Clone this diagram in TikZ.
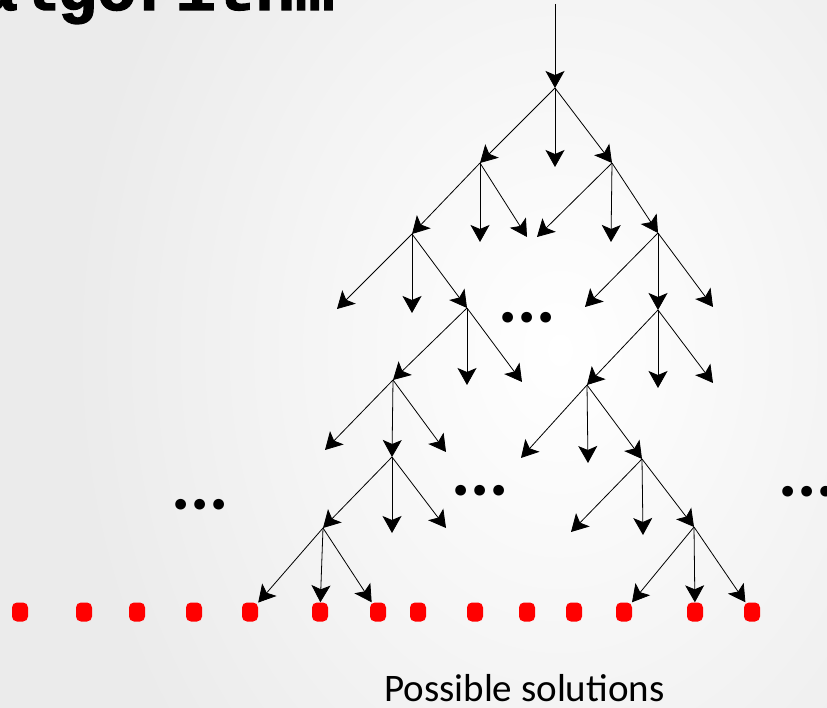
\documentclass[tikz,border=0pt]{standalone}
\usepackage{fontspec}
\usetikzlibrary{arrows.meta}

\newfontfamily\monofam{Liberation Mono}[BoldFeatures={FakeBold=2}]
\newfontfamily\calibfam{Carlito}
\newcommand\titlefont{\monofam\bfseries\fontsize{66}{70}\selectfont}
\newcommand\solfont{\calibfam\fontsize{39}{44}\selectfont}
\newcommand\dotsfont{\calibfam\bfseries\fontsize{72}{80}\selectfont}

\begin{document}
\begin{tikzpicture}[
  x=1pt, y=-1pt,
  arrow/.style = {-{Stealth[length=17pt, width=19pt, inset=4pt]}, line width=0.8pt},
  soln/.style = {fill=red, rounded corners=5pt, minimum width=16pt, minimum height=19pt, inner sep=0pt},
  etc/.style = {font=\dotsfont, inner sep=0pt, anchor=base}]
  % frame
  \useasboundingbox (0,0) rectangle (827,708);
  \clip (0,0) rectangle (827,708);
  \fill[black!8] (0,0) rectangle (827,708);
  \shade[inner color=white, outer color=black!8] (60,-300) rectangle (1060,1000);

  % title (cut off)
  \node[font=\titlefont, anchor=base west, inner sep=0pt] (title) at (-22,10) {algorithm};

  % branch points
  \coordinate (T) at (555,4);
  \coordinate (N0) at (555,88);
  \coordinate (A) at (480,163);
  \coordinate (B) at (612,163);
  \coordinate (C) at (412,234);
  \coordinate (D) at (658,233);
  \coordinate (E) at (467,308);
  \coordinate (F) at (658,310);
  \coordinate (G) at (393,380);
  \coordinate (I) at (587,385);
  \coordinate (H) at (392,457);
  \coordinate (J) at (642,459);
  \coordinate (K) at (323,528);
  \coordinate (L) at (694,527);

  % open ends
  \foreach \n/\x/\y in {n0m/555/167, a2/480/242, a3/527/237, b1/537/237, b2/611/242,
      c1/337/309, c2/412/313, d1/585/307, d3/713/307, e2/467/385, e3/522/382,
      f2/658/388, f3/713/383, g1/325/450, g3/446/452, i1/521/458, i2/588/463,
      h2/392/533, h3/446/528, j1/571/532, j2/643/535}
    \coordinate (\n) at (\x,\y);

  % tree
  \foreach \p/\q in {T/N0, N0/A, N0/n0m, N0/B, A/C, A/a2, A/a3, B/b1, B/b2, B/D,
      C/c1, C/c2, C/E, D/d1, D/F, D/d3, E/G, E/e2, E/e3, F/I, F/f2, F/f3,
      G/g1, G/H, G/g3, I/i1, I/i2, I/J, H/K, H/h2, H/h3, J/j1, J/j2, J/L}
    \draw[arrow] (\p) -- (\q);

  % solutions
  \foreach \i/\x in {1/20, 2/84, 3/137, 4/194, 5/250, 6/320, 7/378, 8/418,
      9/475, 10/527, 11/574, 12/624, 13/695, 14/752}
    \node[soln] (s\i) at (\x,612) {};

  \foreach \q in {s5, s6, s7}
    \draw[arrow] (K) -- (\q);
  \foreach \q in {s12, s13, s14}
    \draw[arrow] (L) -- (\q);

  % dots
  \node[etc] (etc1) at (527,323) {...};
  \node[etc] (etc2) at (200,509) {...};
  \node[etc] (etc3) at (480,495) {...};
  \node[etc] (etc4) at (807,496) {...};

  % label
  \node[font=\solfont, anchor=base west, inner sep=0pt] (sol) at (384,701) {Possible solutions};
\end{tikzpicture}
\end{document}
